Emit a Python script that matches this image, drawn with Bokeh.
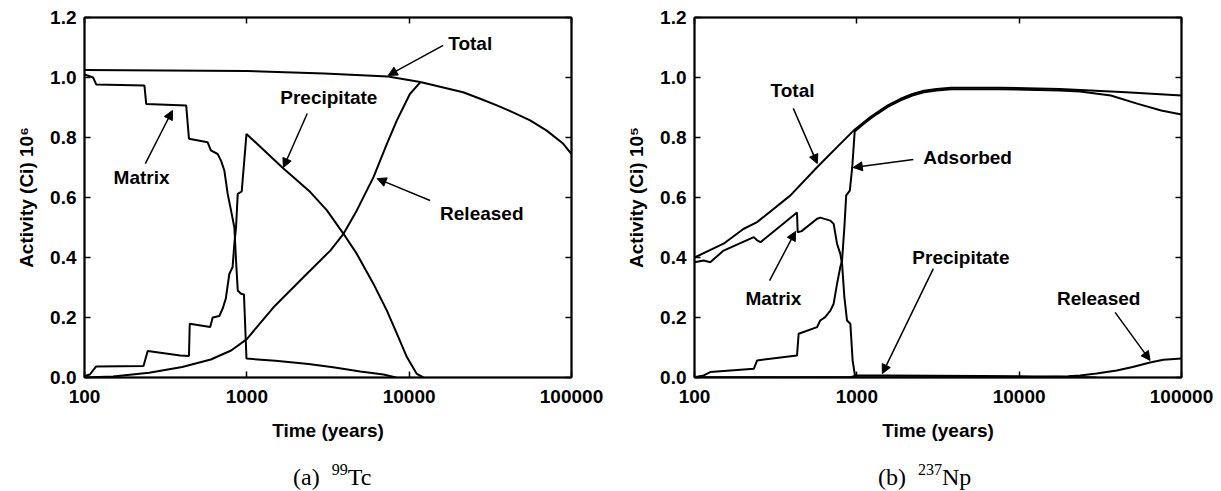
from bokeh.plotting import figure
from bokeh.layouts import row, column
from bokeh.models import (LogAxis, LinearAxis, FixedTicker, PrintfTickFormatter,
                          CustomJSTickFormatter, Arrow, NormalHead, Label, Range1d, Div)
from bokeh.embed import file_html
from bokeh.resources import INLINE

# ---------------- 99Tc inventory (Ci x 10^6) ----------------
tc_total_t = [100, 1000, 3000, 7400, 11700, 21500, 27400, 34700, 43600, 55600, 70400, 89000, 100000]
tc_total = [1.025, 1.022, 1.013, 1.003, 0.985, 0.951, 0.929, 0.907, 0.884, 0.857, 0.823, 0.779, 0.745]

tc_matrix_t = [100, 113, 118, 234, 240, 423, 440, 574, 600, 661, 693, 727, 762, 799, 838,
               858, 879, 921, 960, 995, 1500, 2400, 3400, 5000, 6950, 8300]
tc_matrix = [1.01, 1.0, 0.977, 0.973, 0.912, 0.907, 0.796, 0.784, 0.757, 0.745, 0.723, 0.69,
             0.612, 0.557, 0.5, 0.39, 0.29, 0.279, 0.277, 0.063, 0.056, 0.045, 0.034, 0.02, 0.01, 0.0]

tc_precip_t = [100, 108, 118, 231, 245, 389, 440, 445, 595, 616, 677, 710, 742, 780, 817, 838,
               858, 879, 930, 995, 1648, 2460, 3115, 3940, 4760, 6030, 7290, 8400, 9680, 11150, 12240]
tc_precip = [0.005, 0.01, 0.037, 0.038, 0.088, 0.073, 0.072, 0.179, 0.168, 0.2, 0.205, 0.23,
             0.263, 0.345, 0.368, 0.446, 0.5, 0.612, 0.62, 0.812, 0.701, 0.618, 0.557, 0.479,
             0.412, 0.312, 0.223, 0.146, 0.068, 0.012, 0.0]

tc_released_t = [100, 150, 250, 400, 600, 800, 1000, 1460, 2345, 3265, 3940, 4760, 6030, 7290,
                 8400, 10100, 11700]
tc_released = [0.0, 0.003, 0.016, 0.035, 0.06, 0.09, 0.128, 0.234, 0.346, 0.423, 0.479, 0.557,
               0.668, 0.779, 0.857, 0.945, 0.984]

# ---------------- 237Np inventory (Ci x 10^5) ----------------
np_total_t = [100, 151, 200, 243, 390, 569, 755, 955, 1100, 1211, 1337, 1550, 1860, 2200, 2590,
              3100, 3800, 7690, 17800, 45600, 100000]
np_total = [0.40, 0.446, 0.495, 0.518, 0.607, 0.701, 0.768, 0.823, 0.85, 0.868, 0.884, 0.907,
            0.929, 0.945, 0.956, 0.962, 0.966, 0.966, 0.962, 0.951, 0.94]

np_matrix_t = [100, 114, 125, 151, 232, 243, 255, 428, 432, 457, 569, 595, 687, 720, 755, 791,
               811, 838, 870, 912, 942, 978]
np_matrix = [0.384, 0.39, 0.384, 0.423, 0.468, 0.457, 0.451, 0.55, 0.484, 0.488, 0.529, 0.533,
             0.523, 0.512, 0.446, 0.412, 0.379, 0.268, 0.19, 0.179, 0.057, 0.0]

np_adsorbed_t = [100, 114, 125, 232, 243, 428, 438, 569, 595, 638, 687, 720, 755, 791, 811, 838,
                 860, 905, 937, 970, 1100, 1211, 1337, 1550, 1860, 2200, 2590, 3100, 3800, 7690,
                 17800, 23700, 36700, 53900, 75000, 100000]
np_adsorbed = [0.001, 0.007, 0.018, 0.029, 0.057, 0.073, 0.146, 0.168, 0.19, 0.201, 0.223, 0.246,
               0.312, 0.368, 0.39, 0.501, 0.607, 0.623, 0.701, 0.82, 0.845, 0.863, 0.879, 0.902,
               0.924, 0.94, 0.951, 0.957, 0.961, 0.961, 0.957, 0.953, 0.94, 0.912, 0.89, 0.877]

np_precip_t = [100, 900, 1000, 1500, 3000, 6000, 10000, 20000, 30000]
np_precip = [0.0, 0.0, 0.007, 0.007, 0.006, 0.005, 0.004, 0.002, 0.0]

np_released_t = [100, 10000, 20000, 23700, 30000, 39900, 50000, 64000, 77300, 100000]
np_released = [0.0, 0.001, 0.004, 0.007, 0.013, 0.023, 0.035, 0.05, 0.059, 0.063]

x_ticks = [100, 1000, 10000, 100000]
y_ticks = [0.0, 0.2, 0.4, 0.6, 0.8, 1.0, 1.2]

SANS = "Liberation Sans"
SERIF = "Liberation Serif"
INK = "black"

# callouts: (text, text_t, text_v, arrow_from_t, arrow_from_v, arrow_to_t, arrow_to_v)
tc_notes = [
    ("Total", 17400, 1.113, 16200, 1.107, 7430, 1.007),
    ("Precipitate", 1607, 0.933, 2356, 0.88, 1680, 0.70),
    ("Matrix", 151, 0.667, 237, 0.713, 348, 0.89),
    ("Released", 15500, 0.547, 13460, 0.59, 6350, 0.663),
]
np_notes = [
    ("Total", 294, 0.957, 406, 0.897, 571, 0.713),
    ("Adsorbed", 2565, 0.733, 2230, 0.727, 951, 0.70),
    ("Matrix", 206, 0.263, 290, 0.323, 419, 0.487),
    ("Precipitate", 2197, 0.40, 2960, 0.363, 1436, 0.013),
    ("Released", 17100, 0.263, 39000, 0.217, 64000, 0.057),
]


def style_axis(ax, show_labels):
    ax.axis_line_color = INK
    ax.axis_line_width = 2
    ax.major_tick_line_color = INK
    ax.major_tick_line_width = 1.5
    ax.major_tick_in = 6
    ax.major_tick_out = 0
    ax.minor_tick_line_color = None
    if show_labels:
        ax.major_label_text_font = SANS
        ax.major_label_text_font_size = "19px"
        ax.major_label_text_font_style = "bold"
        ax.major_label_text_color = INK
        ax.axis_label_text_font = SANS
        ax.axis_label_text_font_size = "19px"
        ax.axis_label_text_font_style = "bold"
        ax.axis_label_text_color = INK
    else:
        # mirrored frame axis: tick marks only
        ax.formatter = CustomJSTickFormatter(code="return ''")
        ax.major_label_text_font_size = "1px"
        ax.major_label_standoff = 0


def make_panel(series, y_label, notes, border_right):
    p = figure(x_axis_type="log", x_range=Range1d(100, 100000), y_range=Range1d(0, 1.2),
               frame_width=487, frame_height=360,
               min_border_left=84, min_border_right=border_right,
               min_border_top=17, min_border_bottom=76,
               output_backend="svg", toolbar_location=None,
               background_fill_color="white", border_fill_color="white")
    p.xgrid.visible = False
    p.ygrid.visible = False
    p.outline_line_color = INK
    p.outline_line_width = 1.5

    xa = p.xaxis[0]
    xa.ticker = FixedTicker(ticks=x_ticks)
    xa.formatter = PrintfTickFormatter(format="%d")
    xa.axis_label = "Time (years)"
    style_axis(xa, True)
    xa.major_label_standoff = 12
    xa.axis_label_standoff = 14

    ya = p.yaxis[0]
    ya.ticker = FixedTicker(ticks=y_ticks)
    ya.formatter = PrintfTickFormatter(format="%.1f")
    ya.axis_label = y_label
    style_axis(ya, True)
    ya.major_label_standoff = 8
    ya.axis_label_standoff = 10

    top = LogAxis(ticker=FixedTicker(ticks=x_ticks))
    style_axis(top, False)
    p.add_layout(top, "above")
    right = LinearAxis(ticker=FixedTicker(ticks=y_ticks))
    style_axis(right, False)
    p.add_layout(right, "right")

    for t, v in series:
        p.line(t, v, line_color=INK, line_width=2)

    for text, tx, ty, x0, y0, x1, y1 in notes:
        p.add_layout(Label(x=tx, y=ty, text=text, text_font=SANS, text_font_size="19px",
                           text_font_style="bold", text_color=INK,
                           text_align="left", text_baseline="middle"))
        p.add_layout(Arrow(x_start=x0, y_start=y0, x_end=x1, y_end=y1,
                           line_color=INK, line_width=1.5,
                           end=NormalHead(size=9, fill_color=INK, line_color=INK, line_width=1)))
    return p


def caption(tag, iso, sym, pad_left, width):
    html = (
        f'<div style="padding-left:{pad_left}px; padding-top:12px; font-family:\'{SERIF}\';'
        f' font-size:24px; line-height:24px; white-space:nowrap; color:black;">'
        f'{tag}&nbsp;&nbsp;<span style="font-size:16px; position:relative; top:-10px;">{iso}</span>{sym}'
        f'</div>'
    )
    return Div(text=html, width=width, height=38, margin=0)


left = make_panel(
    [(tc_total_t, tc_total), (tc_matrix_t, tc_matrix), (tc_precip_t, tc_precip),
     (tc_released_t, tc_released)],
    "Activity (Ci) 10\u2076", tc_notes, 39)

right = make_panel(
    [(np_total_t, np_total), (np_matrix_t, np_matrix), (np_adsorbed_t, np_adsorbed),
     (np_precip_t, np_precip), (np_released_t, np_released)],
    "Activity (Ci) 10\u2075", np_notes, 40)

captions = row(caption("(a)", "99", "Tc", 293, 610), caption("(b)", "237", "Np", 268, 611), spacing=0)
layout = column(row(left, right, spacing=0), captions, spacing=0)
open("out.html", "w").write(file_html(layout, INLINE))
